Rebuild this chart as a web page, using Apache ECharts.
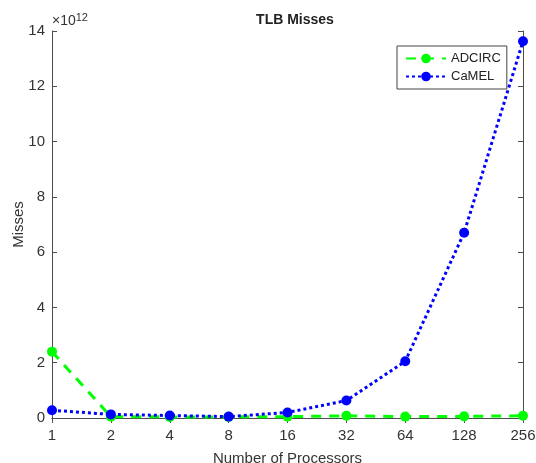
<!DOCTYPE html>
<html><head><meta charset="utf-8">
<script src="https://cdn.jsdelivr.net/npm/echarts@6/dist/echarts.min.js"></script>
<style>html,body{margin:0;padding:0;background:#fff}#c{width:536px;height:463px}</style>
</head><body><div id="c"></div>
<script>
var categories = ['1','2','4','8','16','32','64','128','256'];
var adcirc = [2.4, 0.05, 0.04, 0.04, 0.05, 0.08, 0.05, 0.06, 0.08];
var camel = [0.28, 0.13, 0.09, 0.05, 0.2, 0.63, 2.05, 6.7, 13.63];
var yTicks = [0, 2, 4, 6, 8, 10, 12, 14];

var axisCol = '#4d4d4d';
var font = 'Liberation Sans, Arial, sans-serif';
var chart = echarts.init(document.getElementById('c'));
chart.setOption({
  animation: false,
  backgroundColor: '#fff',
  title: {text: 'TLB Misses', left: 290, top: 8, textAlign: 'center',
    textStyle: {fontFamily: font, fontSize: 14, fontWeight: 'bold', color: '#222'}},
  grid: {left: 52, right: 13, top: 31, bottom: 45, show: false, outerBoundsMode: 'none', containLabel: false},
  legend: {
    data: ['ADCIRC', 'CaMEL'], orient: 'vertical', left: 397, top: 46,
    itemWidth: 40, itemHeight: 12, itemGap: 5, padding: [6, 6, 6, 8],
    borderColor: '#444', borderWidth: 1, backgroundColor: '#fff',
    textStyle: {fontFamily: font, fontSize: 13, color: '#222'}
  },
  xAxis: [{
    type: 'category', data: categories, boundaryGap: false,
    name: 'Number of Processors', nameLocation: 'middle', nameGap: 33, nameMoveOverlap: false,
    nameTextStyle: {fontFamily: font, fontSize: 15, color: '#333'},
    axisLine: {lineStyle: {color: axisCol}}, axisTick: {show: false},
    axisLabel: {fontFamily: font, fontSize: 15, color: '#333', margin: 10, interval: 0},
    splitLine: {show: false}
  }, {
    type: 'category', data: categories, boundaryGap: false, position: 'top',
    axisLine: {lineStyle: {color: axisCol}}, axisTick: {inside: true, length: 5, lineStyle: {color: axisCol}},
    axisLabel: {show: false}, splitLine: {show: false}
  }],
  yAxis: [{
    type: 'value', min: 0, max: 14, interval: 2,
    name: 'Misses', nameLocation: 'middle', nameGap: 26, nameMoveOverlap: false,
    nameTextStyle: {fontFamily: font, fontSize: 15, color: '#333'},
    axisLine: {show: true, lineStyle: {color: axisCol}}, axisTick: {show: true, inside: true, length: 5, lineStyle: {color: axisCol}},
    axisLabel: {fontFamily: font, fontSize: 15, color: '#333', margin: 7},
    splitLine: {show: false}
  }, {
    type: 'value', min: 0, max: 14, interval: 2, position: 'right',
    axisLine: {show: true, lineStyle: {color: axisCol}}, axisTick: {show: true, inside: true, length: 5, lineStyle: {color: axisCol}},
    axisLabel: {show: false}, splitLine: {show: false}
  }],
  graphic: [{
    type: 'text', left: 52, top: 12,
    style: {
      text: '{a|×10}{b|12}',
      rich: {a: {fontFamily: font, fontSize: 14, fill: '#333'}, b: {fontFamily: font, fontSize: 11, fill: '#333', verticalAlign: 'top', padding: [0,0,8,0]}}
    }
  }],
  series: [{
    name: 'ADCIRC', type: 'line', data: adcirc, symbol: 'circle', symbolSize: 10,
    itemStyle: {color: '#00ff00'}, lineStyle: {color: '#00ff00', width: 3, type: [10, 8]}, z: 2
  }, {
    name: 'CaMEL', type: 'line', data: camel, symbol: 'circle', symbolSize: 10,
    itemStyle: {color: '#0000ff'}, lineStyle: {color: '#0000ff', width: 3, type: [3, 3]}, z: 3
  }]
});
</script></body></html>
